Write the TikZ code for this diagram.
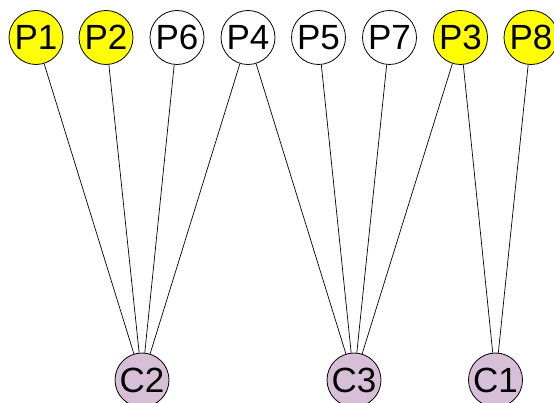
\documentclass[tikz,border=0pt]{standalone}
\usepackage{fontspec}
\setmainfont{Liberation Sans}
\definecolor{pyellow}{RGB}{255,255,0}
\definecolor{cpurple}{RGB}{216,191,216}
\begin{document}
\begin{tikzpicture}[x=1pt,y=-1pt,
  vnode/.style={circle,draw=black,line width=0.8pt,minimum size=54pt,inner sep=0pt,font=\fontsize{35}{35}\selectfont},
  ynode/.style={vnode,fill=pyellow},
  wnode/.style={vnode,fill=white},
  cnode/.style={vnode,fill=cpurple},
  edge/.style={draw=black,line width=0.7pt}]
\useasboundingbox (0,0) rectangle (554,403);
\node[ynode] (P1) at (36,37.5) {P1};
\node[ynode] (P2) at (106,37.5) {P2};
\node[wnode] (P6) at (177,37.5) {P6};
\node[wnode] (P4) at (248,37.5) {P4};
\node[wnode] (P5) at (318.5,37.5) {P5};
\node[wnode] (P7) at (389.5,37.5) {P7};
\node[ynode] (P3) at (460.5,37.5) {P3};
\node[ynode] (P8) at (531,37.5) {P8};
\node[cnode] (C2) at (142,380) {C2};
\node[cnode] (C3) at (354,380) {C3};
\node[cnode] (C1) at (495.5,380) {C1};
\foreach \p in {P1,P2,P6,P4} \draw[edge] (\p) -- (C2);
\foreach \p in {P4,P5,P7,P3} \draw[edge] (\p) -- (C3);
\foreach \p in {P3,P8} \draw[edge] (\p) -- (C1);
\end{tikzpicture}
\end{document}
